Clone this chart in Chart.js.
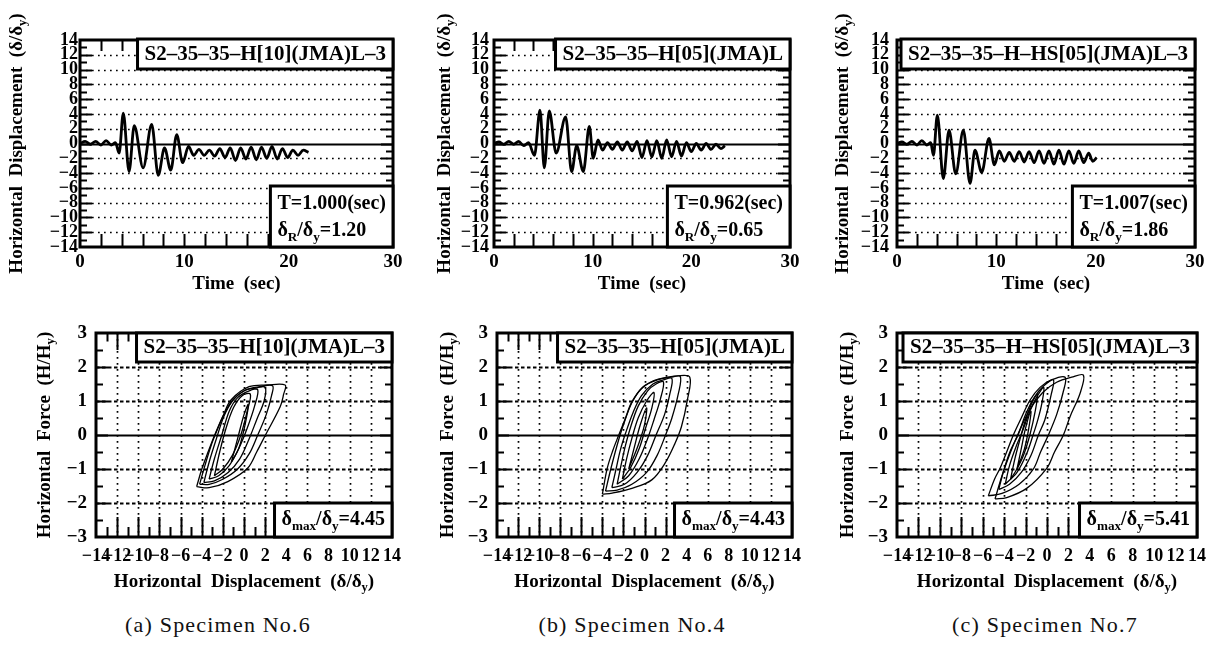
<!DOCTYPE html>
<html>
<head>
<meta charset="utf-8">
<title>Displacement histories and hysteresis loops</title>
<script src="https://cdn.jsdelivr.net/npm/chart.js@4.4.1/dist/chart.umd.min.js"></script>
<style>
  body { margin: 0; background: #fff; }
  #page { position: relative; width: 1220px; height: 646px; overflow: hidden; background: #fff; }
  canvas { position: absolute; }
  .caption { position: absolute; top: 612px; width: 300px; margin-left: -150px; text-align: center;
             font-family: "Liberation Serif", serif; font-size: 22px; letter-spacing: 1.2px; color: #111; }
</style>
</head>
<body>
<div id="page">
  <canvas id="timeA" width="410" height="300" style="left:0;top:0"></canvas>
  <canvas id="timeB" width="400" height="300" style="left:410px;top:0"></canvas>
  <canvas id="timeC" width="410" height="300" style="left:810px;top:0"></canvas>
  <canvas id="loopA" width="410" height="300" style="left:0;top:300px"></canvas>
  <canvas id="loopB" width="400" height="300" style="left:410px;top:300px"></canvas>
  <canvas id="loopC" width="410" height="300" style="left:810px;top:300px"></canvas>
  <div class="caption" id="capA" style="left:218px"></div>
  <div class="caption" id="capB" style="left:632px"></div>
  <div class="caption" id="capC" style="left:1045px"></div>
</div>
<script>
// ---- tick labels ----
const timeTicks = [0, 10, 20, 30];
const dispTicks = [-14, -12, -10, -8, -6, -4, -2, 0, 2, 4, 6, 8, 10, 12, 14];
const forceTicks = [-3, -2, -1, 0, 1, 2, 3];
const loopDispTicks = [-14, -12, -10, -8, -6, -4, -2, 0, 2, 4, 6, 8, 10, 12, 14];

// ---- texts ----
const headLabels = ["S2\u201335\u201335\u2013H[10](JMA)L\u20133", "S2\u201335\u201335\u2013H[05](JMA)L", "S2\u201335\u201335\u2013H\u2013HS[05](JMA)L\u20133"];
const periodLabels = ["T=1.000(sec)", "T=0.962(sec)", "T=1.007(sec)"];
const residualLabels = ["\u03b4_R/\u03b4_y=1.20", "\u03b4_R/\u03b4_y=0.65", "\u03b4_R/\u03b4_y=1.86"];
const maxLabels = ["\u03b4_max/\u03b4_y=4.45", "\u03b4_max/\u03b4_y=4.43", "\u03b4_max/\u03b4_y=5.41"];
const captionLabels = ["(a) Specimen No.6", "(b) Specimen No.4", "(c) Specimen No.7"];
const dispTitle = "Horizontal  Displacement  (\u03b4/\u03b4_y)";
const forceTitle = "Horizontal  Force  (H/H_y)";
const timeTitle = "Time  (sec)";

// ---- displacement histories (sec, delta/delta_y) ----
const timeA = [0, 0.5, 1.0, 1.5, 2.0, 2.5, 3.0, 3.4, 3.75, 4.15, 4.7, 5.2, 6.05, 6.87, 7.5, 8.1, 8.7, 9.27, 9.84,
  10.4, 10.9, 11.4, 11.9, 12.4, 12.9, 13.4, 13.9, 14.4, 14.9, 15.4, 15.9, 16.4, 16.9, 17.4, 17.9, 18.4, 18.9, 19.4, 19.9, 20.4, 20.9, 21.4, 21.9];
const dispA = [0, 0.3, -0.1, 0.3, -0.2, 0.4, -0.2, 0.1, -1.3, 4.1, -3.8, 2.4, -3.3, 2.6, -4.3, -0.6, -3.6, 1.2, -2.6,
  -0.4, -1.6, -0.8, -1.6, -0.9, -1.7, -0.7, -1.9, -0.6, -2.3, -0.6, -2.1, -0.5, -2.2, -0.5, -2.0, -0.4, -2.1, -0.7, -1.9, -0.9, -1.6, -0.9, -1.2];

const timeB = [0, 0.5, 1.0, 1.5, 2.0, 2.5, 3.0, 3.5, 4.1, 4.66, 5.1, 5.6, 6.3, 7.26, 7.87, 8.38, 9.05, 9.66, 10.06, 10.54,
  11.0, 11.5, 12.0, 12.5, 13.0, 13.5, 14.0, 14.5, 15.0, 15.5, 16.0, 16.5, 17.0, 17.5, 18.0, 18.5, 19.0, 19.5, 20.0, 20.5, 21.0, 21.5, 22.0, 22.5, 23.0, 23.4];
const dispB = [0, 0.2, -0.1, 0.3, -0.1, 0.3, -0.3, 0.1, -1.6, 4.5, -3.3, 4.4, -1.3, 3.6, -3.8, -0.3, -3.8, 2.3, -2.0, 0.5,
  -0.9, 0.1, -0.8, 0.2, -0.9, 0.2, -1.0, 0.3, -1.9, 0.4, -1.8, 0.4, -2.0, 0.5, -1.8, 0.3, -1.7, 0.1, -1.1, 0.0, -0.9, 0.0, -0.8, -0.1, -0.7, -0.3];

const timeC = [0, 0.5, 1.0, 1.5, 2.0, 2.5, 3.0, 3.4, 3.67, 4.06, 4.66, 5.24, 5.91, 6.68, 7.35, 7.85, 8.53, 9.26, 9.8, 10.3,
  10.8, 11.3, 11.8, 12.3, 12.8, 13.3, 13.8, 14.3, 14.8, 15.3, 15.8, 16.3, 16.8, 17.3, 17.8, 18.3, 18.8, 19.3, 19.7, 20.1];
const dispC = [0, 0.2, -0.1, 0.3, -0.2, 0.4, -0.2, 0.1, -1.6, 3.85, -4.75, 1.8, -4.1, 1.8, -5.4, -0.9, -3.9, 0.7, -2.9, -1.0,
  -2.4, -1.2, -2.4, -1.1, -2.5, -1.1, -2.6, -1.0, -2.7, -1.0, -2.8, -0.9, -2.8, -1.0, -2.7, -1.0, -2.6, -1.3, -2.4, -1.9];

// ---- hysteresis loops [delta/delta_y, H/H_y] ----
const loopA0 = [[-4.48, -1.52], [-4.02, -1.03], [-3.4, -0.5], [-2.77, 0.0], [-2.0, 0.55], [-1.23, 1.03], [0.48, 1.42], [2.2, 1.47], [3.89, 1.47],
  [3.75, 1.2], [3.42, 0.83], [2.03, 0.0], [1.2, -0.5], [0.33, -0.98], [-1.53, -1.37], [-3.3, -1.55], [-4.48, -1.52]];
const loopA1 = [[-4.2, -1.45], [-3.7, -0.9], [-3.1, -0.3], [-2.6, 0.1], [-1.9, 0.6], [-1.0, 1.05], [0.2, 1.33], [1.5, 1.42], [2.7, 1.45],
  [2.6, 1.15], [2.1, 0.6], [1.3, 0.0], [0.5, -0.55], [-0.6, -1.0], [-2.0, -1.3], [-3.3, -1.45], [-4.2, -1.45]];
const loopA2 = [[-3.8, -1.4], [-3.3, -0.8], [-2.6, -0.1], [-1.9, 0.55], [-1.1, 1.0], [0.0, 1.3], [1.1, 1.38], [2.0, 1.4],
  [1.9, 1.0], [1.2, 0.45], [0.5, -0.1], [-0.4, -0.7], [-1.5, -1.1], [-2.8, -1.35], [-3.8, -1.4]];
const loopA3 = [[-3.3, -1.3], [-2.8, -0.7], [-2.1, 0.0], [-1.4, 0.7], [-0.6, 1.1], [0.5, 1.3], [1.3, 1.33],
  [1.0, 0.85], [0.3, 0.2], [-0.5, -0.4], [-1.4, -0.9], [-2.4, -1.2], [-3.3, -1.3]];
const loopA4 = [[-2.8, -1.2], [-2.3, -0.5], [-1.7, 0.2], [-1.0, 0.8], [-0.2, 1.15], [0.6, 1.2],
  [0.3, 0.7], [-0.3, 0.0], [-1.1, -0.6], [-2.0, -1.0], [-2.8, -1.2]];
const loopA5 = [[-1.2, -0.8], [-0.6, -0.1], [0.0, 0.6], [0.4, 0.9], [0.1, 0.3], [-0.5, -0.4], [-1.2, -0.8]];

const loopB0 = [[-4.0, -1.74], [-3.54, -0.98], [-3.0, -0.45], [-2.44, 0.0], [-1.8, 0.5], [-1.19, 0.98], [-0.09, 1.42], [1.32, 1.64], [3.2, 1.74], [4.3, 1.70],
  [4.07, 1.03], [3.51, 0.25], [2.89, -0.25], [1.95, -0.83], [0.69, -1.32], [-1.19, -1.57], [-3.07, -1.71], [-4.0, -1.74]];
const loopB1 = [[-3.7, -1.65], [-3.2, -1.0], [-2.6, -0.3], [-2.0, 0.3], [-1.2, 0.95], [-0.2, 1.4], [1.2, 1.62], [2.5, 1.7], [3.4, 1.72],
  [3.2, 1.2], [2.6, 0.5], [2.0, 0.0], [1.2, -0.6], [0.2, -1.1], [-1.2, -1.45], [-2.6, -1.62], [-3.7, -1.65]];
const loopB2 = [[-3.1, -1.55], [-2.7, -1.0], [-2.3, -0.45], [-1.8, 0.05], [-1.1, 0.65], [-0.3, 1.15], [0.8, 1.5], [1.8, 1.62], [2.6, 1.66],
  [2.4, 1.2], [1.9, 0.6], [1.1, 0.0], [0.3, -0.6], [-0.7, -1.1], [-1.9, -1.45], [-3.1, -1.55]];
const loopB3 = [[-2.6, -1.45], [-2.2, -0.85], [-1.8, -0.3], [-1.3, 0.25], [-0.6, 0.85], [0.3, 1.3], [1.1, 1.5], [1.8, 1.56],
  [1.5, 1.05], [0.9, 0.45], [0.3, -0.1], [-0.5, -0.7], [-1.5, -1.2], [-2.6, -1.45]];
const loopB4 = [[-2.1, -1.3], [-1.7, -0.7], [-1.2, -0.1], [-0.6, 0.5], [0.2, 1.0], [0.9, 1.25],
  [0.7, 0.8], [0.1, 0.2], [-0.5, -0.4], [-1.3, -0.95], [-2.1, -1.3]];
const loopB5 = [[-1.5, -1.0], [-1.0, -0.4], [-0.4, 0.3], [0.2, 0.8], [0.0, 0.3], [-0.6, -0.3], [-1.5, -1.0]];

const loopC0 = [[-5.48, -1.79], [-4.9, -1.3], [-4.38, -0.98], [-3.7, -0.45], [-3.14, 0.0], [-2.4, 0.5], [-1.58, 1.03], [-0.65, 1.4], [0.4, 1.62], [1.69, 1.70],
  [1.5, 1.25], [0.9, 0.6], [0.13, 0.0], [-0.6, -0.5], [-1.27, -1.0], [-2.6, -1.45], [-4.2, -1.72], [-5.48, -1.79]];
const loopC1 = [[-4.85, -1.88], [-4.2, -1.2], [-3.4, -0.5], [-2.6, 0.1], [-1.6, 0.75], [-0.4, 1.25], [0.9, 1.55], [2.3, 1.7], [3.4, 1.76],
  [3.09, 1.23], [2.15, 0.54], [1.53, 0.0], [0.7, -0.5], [-0.03, -0.98], [-1.9, -1.57], [-3.76, -1.84], [-4.85, -1.88]];
const loopC2 = [[-4.5, -1.6], [-4.0, -1.0], [-3.4, -0.45], [-2.7, 0.0], [-2.0, 0.6], [-1.2, 1.1], [-0.3, 1.45], [0.6, 1.62],
  [0.4, 1.2], [-0.2, 0.45], [-0.8, 0.0], [-1.5, -0.6], [-2.4, -1.1], [-3.5, -1.45], [-4.5, -1.6]];
const loopC3 = [[-3.9, -1.45], [-3.5, -0.9], [-2.9, -0.35], [-2.3, 0.1], [-1.6, 0.7], [-0.9, 1.15], [-0.3, 1.4],
  [-0.5, 0.9], [-0.9, 0.4], [-1.3, 0.0], [-1.9, -0.55], [-2.8, -1.1], [-3.9, -1.45]];
const loopC4 = [[-3.4, -1.3], [-3.0, -0.7], [-2.5, -0.1], [-2.0, 0.45], [-1.4, 0.95], [-0.9, 1.2],
  [-1.1, 0.7], [-1.6, 0.0], [-2.2, -0.6], [-2.9, -1.05], [-3.4, -1.3]];
const loopC5 = [[-2.8, -1.0], [-2.4, -0.4], [-2.0, 0.2], [-1.5, 0.7], [-1.7, 0.2], [-2.1, -0.4], [-2.8, -1.0]];

// ---- layout of each panel (canvas px) ----
const panels = {
  timeA: { kind: 'time', left: 80, right: 17, top: 40, bottom: 53, yPad: 2, titleX: 17, xTitleY: 284, n: 0 },
  timeB: { kind: 'time', left: 84, right: 20, top: 40, bottom: 53, yPad: 5, titleX: 35, xTitleY: 284, n: 1 },
  timeC: { kind: 'time', left: 87, right: 25, top: 40, bottom: 53, yPad: 8, titleX: 33, xTitleY: 284, n: 2 },
  loopA: { kind: 'loop', left: 96, right: 13, top: 33, bottom: 63, yPad: 9, titleX: 45, xTitleY: 282, n: 0 },
  loopB: { kind: 'loop', left: 87, right: 15, top: 33, bottom: 63, yPad: 9, titleX: 38, xTitleY: 282, n: 1 },
  loopC: { kind: 'loop', left: 87, right: 23, top: 33, bottom: 63, yPad: 9, titleX: 38, xTitleY: 282, n: 2 }
};

const SERIF = '"Liberation Serif", "Times New Roman", serif';

function setFont(ctx, size) {
  ctx.font = 'bold ' + size + 'px ' + SERIF;
}

// "δ_R/δ_y" -> parts, odd parts are subscripts
function richParts(str) {
  return str.split(/_([A-Za-z]+)/).map((s, i) => [s, i % 2 === 1]);
}

function richWidth(ctx, parts, size) {
  let w = 0;
  parts.forEach(p => {
    setFont(ctx, p[1] ? size * 0.66 : size);
    w += ctx.measureText(p[0]).width;
  });
  return w;
}

function drawRich(ctx, str, x, y, size, align) {
  const parts = richParts(str);
  const w = richWidth(ctx, parts, size);
  let cx = align === 'center' ? x - w / 2 : x;
  ctx.textAlign = 'left';
  ctx.textBaseline = 'middle';
  parts.forEach(p => {
    setFont(ctx, p[1] ? size * 0.66 : size);
    ctx.fillText(p[0], cx, p[1] ? y + size * 0.32 : y);
    cx += ctx.measureText(p[0]).width;
  });
}

function labelBox(ctx, lines, right, top, height, size, rowY) {
  let w = 0;
  lines.forEach(s => { w = Math.max(w, richWidth(ctx, richParts(s), size)); });
  const left = right - w - 14;
  ctx.fillStyle = '#fff';
  ctx.fillRect(left, top, right - left, height);
  ctx.fillStyle = '#000';
  ctx.lineWidth = 3;
  ctx.strokeRect(left, top, right - left, height);
  lines.forEach((s, i) => drawRich(ctx, s, left + 7, top + rowY[i], size, 'left'));
}

const decor = {
  id: 'decor',
  beforeDatasetsDraw(chart) {
    const p = panels[chart.canvas.id];
    const ctx = chart.ctx, a = chart.chartArea;
    const xs = chart.scales.x, ys = chart.scales.y;
    ctx.save();
    ctx.strokeStyle = '#000';
    const rows = p.kind === 'time' ? dispTicks : forceTicks;
    rows.forEach(v => {
      if (v <= ys.min || v >= ys.max) return;
      const y = Math.round(ys.getPixelForValue(v)) + 0.5;
      if (v === 0) { ctx.setLineDash([]); ctx.lineWidth = 1.8; }
      else if (p.kind === 'time') { ctx.setLineDash([1.7, 4.3]); ctx.lineWidth = 1.7; }
      else { ctx.setLineDash([3.5, 2.5]); ctx.lineWidth = 2; }
      ctx.beginPath(); ctx.moveTo(a.left, y); ctx.lineTo(a.right, y); ctx.stroke();
    });
    if (p.kind === 'loop') {
      ctx.setLineDash([1.7, 4.3]);
      ctx.lineWidth = 1.7;
      loopDispTicks.forEach(v => {
        if (v <= xs.min || v >= xs.max) return;
        const x = Math.round(xs.getPixelForValue(v)) + 0.5;
        ctx.beginPath(); ctx.moveTo(x, a.top); ctx.lineTo(x, a.bottom); ctx.stroke();
      });
    }
    ctx.restore();
  },
  afterDatasetsDraw(chart) {
    const p = panels[chart.canvas.id];
    const ctx = chart.ctx, a = chart.chartArea;
    const xs = chart.scales.x, ys = chart.scales.y;
    ctx.save();
    ctx.strokeStyle = '#000';
    ctx.fillStyle = '#000';
    ctx.setLineDash([]);

    // inward tick marks
    ctx.lineWidth = 2;
    ctx.beginPath();
    const yStep = p.kind === 'time' ? 1 : 0.5;
    for (let v = ys.min + yStep; v < ys.max - 1e-6; v += yStep) {
      const y = Math.round(ys.getPixelForValue(v)) + 0.5;
      const major = p.kind === 'time' ? Math.abs(v % 2) < 1e-6 : Math.abs(v - Math.round(v)) < 1e-6;
      const len = major ? 12 : 7;
      ctx.moveTo(a.left, y); ctx.lineTo(a.left + len, y);
      ctx.moveTo(a.right, y); ctx.lineTo(a.right - len, y);
    }
    const xStep = p.kind === 'time' ? 2 : 1;
    for (let v = xs.min + xStep; v < xs.max - 1e-6; v += xStep) {
      const x = Math.round(xs.getPixelForValue(v)) + 0.5;
      const len = p.kind === 'time' ? 13 : (Math.abs(v % 2) < 1e-6 ? 20 : 10);
      ctx.moveTo(x, a.bottom); ctx.lineTo(x, a.bottom - len);
      ctx.moveTo(x, a.top); ctx.lineTo(x, a.top + len * 0.85);
    }
    ctx.stroke();

    // frame
    ctx.lineWidth = 3;
    ctx.strokeRect(a.left, a.top, a.right - a.left, a.bottom - a.top);

    // label boxes
    if (p.kind === 'time') {
      labelBox(ctx, [headLabels[p.n]], a.right, a.top - 1, 30, 21, [16]);
      labelBox(ctx, [periodLabels[p.n], residualLabels[p.n]], a.right, a.bottom - 61, 61, 20, [18, 45]);
    } else {
      labelBox(ctx, [headLabels[p.n]], a.right, a.top, 29, 21, [15]);
      labelBox(ctx, [maxLabels[p.n]], a.right, a.bottom - 34, 34, 20, [17]);
    }

    // axis titles
    ctx.fillStyle = '#000';
    const cx = (a.left + a.right) / 2, cy = (a.top + a.bottom) / 2;
    drawRich(ctx, p.kind === 'time' ? timeTitle : dispTitle, cx, p.xTitleY, 19, 'center');
    ctx.translate(p.titleX, cy);
    ctx.rotate(-Math.PI / 2);
    drawRich(ctx, p.kind === 'time' ? dispTitle : forceTitle, 0, 0, 19, 'center');
    ctx.restore();
  }
};

function tickText(v) {
  return v < 0 ? '\u2212' + Math.abs(v) : String(v);
}

function axis(min, max, ticksArr, fontSize, pad, extent, isX) {
  return {
    type: 'linear',
    min: min,
    max: max,
    grid: { display: false, drawTicks: false },
    border: { display: false },
    afterBuildTicks: s => { s.ticks = ticksArr.map(v => ({ value: v })); },
    afterFit: s => { if (isX) s.height = extent; else s.width = extent; },
    ticks: {
      autoSkip: false, maxRotation: 0, minRotation: 0, padding: pad, color: '#000',
      font: { family: SERIF, size: fontSize, weight: 'bold' },
      callback: v => tickText(v)
    }
  };
}

function baseOptions(p, xAxis, yAxis) {
  return {
    responsive: false,
    animation: false,
    events: [],
    layout: { padding: { top: p.top, right: p.right, left: 0, bottom: 0 } },
    plugins: { legend: { display: false }, tooltip: { enabled: false } },
    scales: { x: xAxis, y: yAxis }
  };
}

function timeChart(id, times, disp) {
  const p = panels[id];
  const points = times.map((t, i) => ({ x: t, y: disp[i] }));
  new Chart(document.getElementById(id), {
    type: 'scatter',
    data: {
      datasets: [{
        data: points, showLine: true, borderColor: '#000', borderWidth: 2.8,
        borderJoinStyle: 'round', pointRadius: 0, cubicInterpolationMode: 'monotone'
      }]
    },
    options: baseOptions(p,
      axis(0, 30, timeTicks, 19, 4, p.bottom, true),
      axis(-14, 14, dispTicks, 18, p.yPad, p.left, false)),
    plugins: [decor]
  });
}

function loopChart(id, loops) {
  const p = panels[id];
  new Chart(document.getElementById(id), {
    type: 'scatter',
    data: {
      datasets: loops.map(loop => ({
        data: loop.map(pt => ({ x: pt[0], y: pt[1] })),
        showLine: true, borderColor: '#000', borderWidth: 1.3,
        borderJoinStyle: 'round', pointRadius: 0, tension: 0.35
      }))
    },
    options: baseOptions(p,
      axis(-14, 14, loopDispTicks, 18, 9, p.bottom, true),
      axis(-3, 3, forceTicks, 19, p.yPad, p.left, false)),
    plugins: [decor]
  });
}

timeChart('timeA', timeA, dispA);
timeChart('timeB', timeB, dispB);
timeChart('timeC', timeC, dispC);
loopChart('loopA', [loopA0, loopA1, loopA2, loopA3, loopA4, loopA5]);
loopChart('loopB', [loopB0, loopB1, loopB2, loopB3, loopB4, loopB5]);
loopChart('loopC', [loopC0, loopC1, loopC2, loopC3, loopC4, loopC5]);

document.getElementById('capA').innerText = captionLabels[0];
document.getElementById('capB').innerText = captionLabels[1];
document.getElementById('capC').innerText = captionLabels[2];
</script>
</body>
</html>
